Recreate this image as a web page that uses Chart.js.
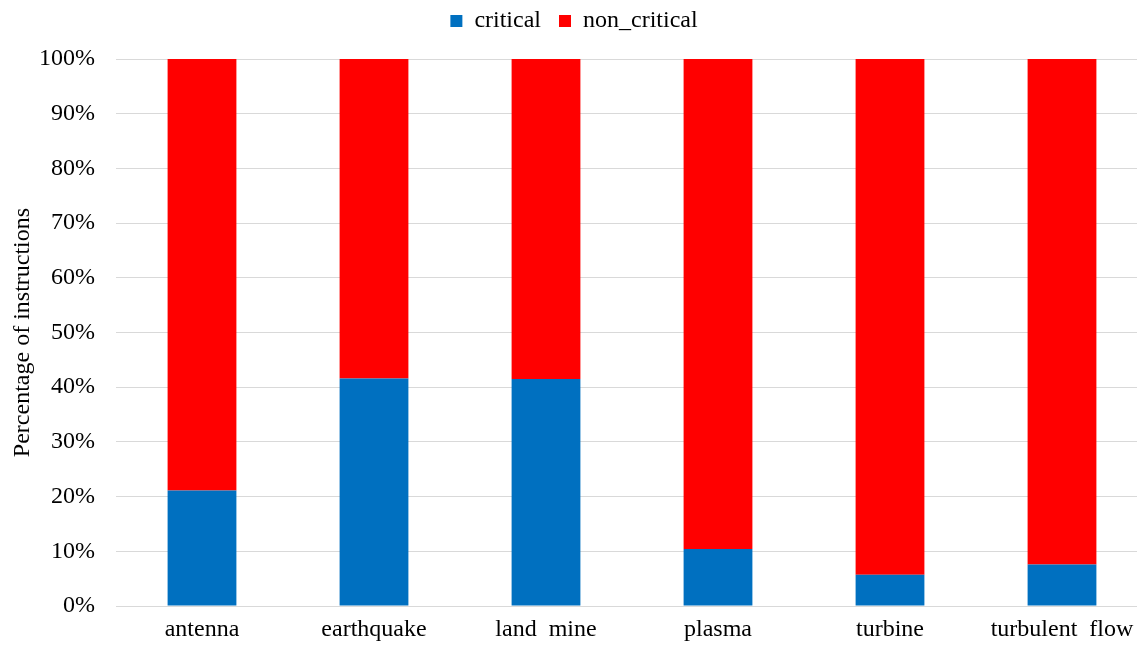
<!DOCTYPE html>
<html>
<head>
<meta charset="utf-8">
<script src="https://cdn.jsdelivr.net/npm/chart.js@4"></script>
<style>
    html, body { margin: 0; padding: 0; background: #fff; overflow: hidden; }
    #wrap { width: 1148px; height: 646px; }
</style>
</head>
<body>
<div id="wrap"><canvas id="chart"></canvas></div>
<script>
const categories = ['antenna', 'earthquake', 'land  mine', 'plasma', 'turbine', 'turbulent  flow'];
const critical = [21.1, 41.6, 41.5, 10.4, 5.7, 7.6];
const nonCritical = [78.9, 58.4, 58.5, 89.6, 94.3, 92.4];
const yTicks = [0, 10, 20, 30, 40, 50, 60, 70, 80, 90, 100];

const serif = 'Liberation Serif, Times New Roman, serif';

// wider spacing between legend items, but keep the row near the top edge
const legendTweak = {
    id: 'legendTweak',
    afterInit(chart) {
        const legend = chart.legend;
        if (!legend) return;
        const fit = legend.fit;
        const draw = legend.draw;
        legend.fit = function () {
            fit.call(this);
            this.height += 7;
        };
        legend.draw = function () {
            const ctx = this.ctx;
            ctx.save();
            ctx.translate(0, -9);
            draw.call(this);
            ctx.restore();
        };
    }
};

new Chart(document.getElementById('chart'), {
    type: 'bar',
    data: {
        labels: categories,
        datasets: [
            { label: 'critical', data: critical, backgroundColor: '#0070C0', barPercentage: 0.4, categoryPercentage: 1 },
            { label: 'non_critical', data: nonCritical, backgroundColor: '#FF0000', barPercentage: 0.4, categoryPercentage: 1 }
        ]
    },
    plugins: [legendTweak],
    options: {
        responsive: true,
        maintainAspectRatio: false,
        animation: false,
        layout: { padding: 0 },
        plugins: {
            tooltip: { enabled: false },
            legend: {
                position: 'top',
                labels: {
                    color: '#000',
                    font: { family: serif, size: 24 },
                    boxWidth: 12,
                    boxHeight: 12,
                    padding: 18
                }
            }
        },
        scales: {
            x: {
                stacked: true,
                grid: { display: false, drawTicks: false },
                border: { color: '#d9d9d9' },
                ticks: { color: '#000', font: { family: serif, size: 24 }, padding: 9, maxRotation: 0 },
                afterFit: (scale) => { scale.height = 40; }
            },
            y: {
                stacked: true,
                min: 0,
                max: 100,
                afterBuildTicks: (scale) => { scale.ticks = yTicks.map(v => ({ value: v })); },
                grid: { color: '#d9d9d9', drawTicks: false },
                border: { display: false },
                ticks: {
                    color: '#000',
                    font: { family: serif, size: 24 },
                    padding: 21,
                    callback: (v) => v + '%'
                },
                title: {
                    display: true,
                    text: 'Percentage of instructions',
                    color: '#000',
                    font: { family: serif, size: 24 },
                    padding: { top: 8, bottom: 0 }
                },
                afterFit: (scale) => { scale.width = 116; }
            }
        }
    }
});
</script>
</body>
</html>
